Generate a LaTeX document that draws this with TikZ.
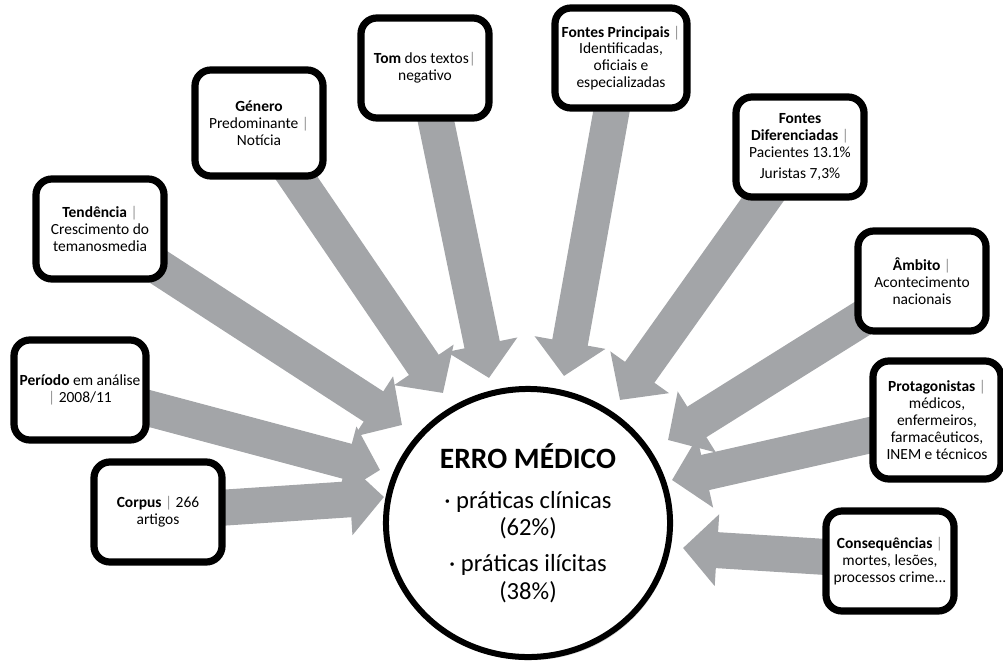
\documentclass[tikz,border=0pt]{standalone}
\usepackage{fontspec}
\setmainfont{Carlito}
\usetikzlibrary{arrows.meta,shadows,backgrounds,shapes.geometric}
\definecolor{arrowgray}{RGB}{163,165,168}
\definecolor{sepgray}{RGB}{150,150,150}
\newcommand{\sep}{{\color{sepgray}|}}

\begin{document}
\begin{tikzpicture}[x=0.025cm,y=-0.025cm,
    topic/.style={draw=black,line width=0.18cm,rounded corners=0.4cm,fill=white,
      minimum width=3.2cm,minimum height=2.5cm,align=center,inner sep=1pt,
      font=\fontsize{11}{12}\selectfont,
      drop shadow={opacity=0.35,shadow xshift=0.05cm,shadow yshift=-0.08cm}},
    feed/.style={draw=arrowgray,line width=0.9cm,
      -{Triangle[length=0.85cm,width=1.75cm]}}]
  \useasboundingbox (0,0) rectangle (1003,669);

  % centre
  \node[ellipse,draw=black,line width=0.15cm,fill=white,inner sep=0pt,
    minimum width=7.1cm,minimum height=6.7cm,align=center,
    font=\fontsize{17.5}{19.5}\selectfont,
    drop shadow={opacity=0.35,shadow xshift=0.05cm,shadow yshift=-0.08cm}]
    (erro) at (528,523)
    {{\fontsize{21}{25}\selectfont\bfseries ERRO MÉDICO}\\[9pt]
     · práticas clínicas\\ (62\%)\\[6pt]
     · práticas ilícitas\\ (38\%)};

  % left side
  \node[topic] (corpus) at (158,512) {\textbf{Corpus} \sep{} 266\\ artigos};
  \node[topic,minimum width=3.3cm] (periodo) at (80,390) {\textbf{Período} em análise\\ \sep{} 2008/11};
  \node[topic] (tendencia) at (100,229)
    {\textbf{Tendência} \sep\\ Crescimento do\\ temanosmedia};
  \node[topic,minimum height=2.65cm] (genero) at (259,123)
    {\textbf{Género}\\ Predominante \sep\\ Notícia};
  % top
  \node[topic] (tom) at (425,68) {\textbf{Tom} dos textos\sep\\ negativo};
  \node[topic,minimum width=3.3cm] (fprinc) at (621,58)
    {\textbf{Fontes Principais} \sep\\ Identificadas,\\ oficiais e\\ especializadas};
  % right side
  \node[topic] (fdif) at (800,147)
    {\textbf{Fontes}\\ \textbf{Diferenciadas} \sep\\ Pacientes 13.1\%\\[3pt] Juristas 7,3\%};
  \node[topic] (ambito) at (922,281)
    {\textbf{Âmbito} \sep\\ Acontecimento\\ nacionais};
  \node[topic,minimum height=2.95cm] (protag) at (937,420)
    {\textbf{Protagonistas} \sep\\ médicos,\\ enfermeiros,\\ farmacêuticos,\\ INEM e técnicos};
  \node[topic] (conseq) at (890,561)
    {\textbf{Consequências} \sep\\ mortes, lesões,\\ processos crime...};

  % arrow tips round the centre
  \coordinate (tcorpus) at (384,497);
  \coordinate (tperiodo) at (380,470);
  \coordinate (ttendencia) at (402,425);
  \coordinate (tgenero) at (443,393);
  \coordinate (ttom) at (489,378);
  \coordinate (tfprinc) at (564,376);
  \coordinate (tfdif) at (620,400);
  \coordinate (tambito) at (668,440);
  \coordinate (tprotag) at (672,480);
  \coordinate (tconseq) at (683,548);

  \begin{scope}[on background layer]
    \foreach \n in {corpus,periodo,tendencia,genero,tom,fprinc,fdif,ambito,protag,conseq}
      \draw[feed] (\n.center) -- (t\n);
  \end{scope}
\end{tikzpicture}
\end{document}
